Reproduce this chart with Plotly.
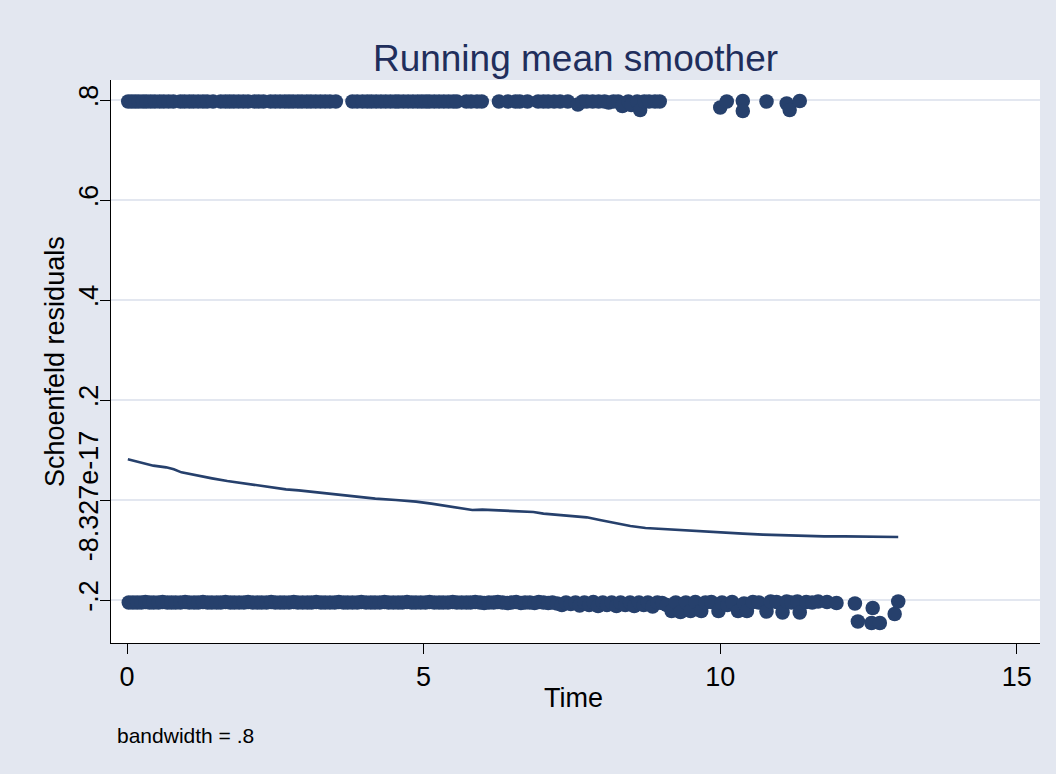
import plotly.graph_objects as go

# Schoenfeld residuals: upper band (failures) and lower band
top_time = [0.02, 0.08, 0.14, 0.2, 0.27, 0.33, 0.4, 0.47, 0.55, 0.62, 0.7, 0.78, 0.9, 0.97,
            1.05, 1.12, 1.2, 1.28, 1.35, 1.45, 1.58, 1.66, 1.73, 1.8, 1.88, 1.96, 2.04, 2.15,
            2.22, 2.3, 2.42, 2.5, 2.58, 2.66, 2.73, 2.8, 2.88, 2.95, 3.03, 3.1, 3.18, 3.26,
            3.34, 3.42, 3.52, 3.8, 3.88, 3.97, 4.05, 4.12, 4.2, 4.28, 4.36, 4.44, 4.52, 4.58,
            4.66, 4.74, 4.82, 4.9, 4.97, 5.04, 5.1, 5.18, 5.26, 5.34, 5.42, 5.5, 5.56, 5.72,
            5.8, 5.9, 5.98, 6.27, 6.42, 6.55, 6.62, 6.75, 6.93, 7.02, 7.1, 7.2, 7.3, 7.43,
            7.6, 7.68, 7.75, 7.85, 7.95, 8.05, 8.12, 8.2, 8.28, 8.35, 8.45, 8.5, 8.6, 8.65,
            8.72, 8.8, 8.9, 8.98, 10.0, 10.11, 10.38, 10.38, 10.78, 11.12, 11.17, 11.34]
top_resid = [0.797, 0.797, 0.797, 0.797, 0.797, 0.797, 0.797, 0.797, 0.797, 0.797, 0.797, 0.797, 0.797, 0.797,
             0.797, 0.797, 0.797, 0.797, 0.797, 0.797, 0.797, 0.797, 0.797, 0.797, 0.797, 0.797, 0.797, 0.797,
             0.797, 0.797, 0.797, 0.797, 0.797, 0.797, 0.797, 0.797, 0.797, 0.797, 0.797, 0.797, 0.797, 0.797,
             0.797, 0.797, 0.797, 0.797, 0.797, 0.797, 0.797, 0.797, 0.797, 0.797, 0.797, 0.797, 0.797, 0.797,
             0.797, 0.797, 0.797, 0.797, 0.797, 0.797, 0.797, 0.797, 0.797, 0.797, 0.797, 0.797, 0.797, 0.797,
             0.797, 0.797, 0.797, 0.797, 0.797, 0.797, 0.797, 0.797, 0.797, 0.797, 0.797, 0.797, 0.797, 0.797,
             0.791, 0.797, 0.797, 0.797, 0.797, 0.797, 0.795, 0.797, 0.797, 0.788, 0.797, 0.79, 0.797, 0.78,
             0.797, 0.797, 0.797, 0.797, 0.785, 0.797, 0.798, 0.778, 0.797, 0.793, 0.78, 0.798]

bot_time = [0.03, 0.1, 0.17, 0.24, 0.31, 0.38, 0.45, 0.53, 0.6, 0.68, 0.75, 0.82, 0.9, 0.98,
            1.05, 1.13, 1.2, 1.28, 1.36, 1.43, 1.51, 1.58, 1.66, 1.74, 1.81, 1.89, 1.97, 2.04,
            2.12, 2.2, 2.27, 2.35, 2.43, 2.5, 2.58, 2.65, 2.73, 2.81, 2.88, 2.96, 3.04, 3.11,
            3.19, 3.27, 3.34, 3.42, 3.5, 3.57, 3.65, 3.72, 3.8, 3.88, 3.95, 4.03, 4.11, 4.18,
            4.26, 4.34, 4.41, 4.49, 4.57, 4.64, 4.72, 4.8, 4.87, 4.95, 5.03, 5.1, 5.18, 5.26,
            5.33, 5.41, 5.49, 5.56, 5.64, 5.72, 5.79, 5.87, 5.95, 6.02, 6.1, 6.18, 6.25, 6.33,
            6.41, 6.48, 6.56, 6.64, 6.71, 6.79, 6.87, 6.94, 7.02, 7.1, 7.17, 7.25, 7.33, 7.4,
            7.48, 7.56, 7.63, 7.71, 7.79, 7.86, 7.94, 8.02, 8.09, 8.17, 8.25, 8.32, 8.4, 8.48,
            8.55, 8.63, 8.71, 8.78, 8.86, 8.94, 9.02, 9.1, 9.18, 9.25, 9.33, 9.42, 9.5, 9.58,
            9.68, 9.75, 9.85, 9.97, 10.03, 10.12, 10.2, 10.3, 10.4, 10.45, 10.55, 10.65, 10.78,
            10.85, 10.95, 11.05, 11.12, 11.2, 11.3, 11.34, 11.45, 11.55, 11.65, 11.8, 11.96,
            12.27, 12.32, 12.55, 12.57, 12.69, 12.94, 13.0]
bot_resid = [-0.205, -0.205, -0.205, -0.205, -0.204, -0.205, -0.205, -0.205, -0.204, -0.205, -0.205, -0.205, -0.205, -0.204,
             -0.205, -0.205, -0.205, -0.204, -0.205, -0.205, -0.205, -0.205, -0.204, -0.205, -0.205, -0.205, -0.205, -0.204,
             -0.205, -0.205, -0.205, -0.205, -0.204, -0.205, -0.205, -0.205, -0.205, -0.204, -0.205, -0.205, -0.205, -0.205,
             -0.204, -0.205, -0.205, -0.205, -0.205, -0.204, -0.205, -0.205, -0.205, -0.205, -0.204, -0.205, -0.205, -0.205,
             -0.205, -0.204, -0.205, -0.205, -0.205, -0.205, -0.204, -0.205, -0.205, -0.205, -0.205, -0.204, -0.205, -0.205,
             -0.205, -0.205, -0.204, -0.205, -0.205, -0.205, -0.205, -0.204, -0.205, -0.206, -0.205, -0.205, -0.204, -0.205,
             -0.206, -0.205, -0.204, -0.206, -0.205, -0.205, -0.206, -0.204, -0.205, -0.206, -0.205, -0.207, -0.21, -0.205,
             -0.208, -0.205, -0.211, -0.205, -0.21, -0.204, -0.212, -0.205, -0.21, -0.205, -0.212, -0.205, -0.21, -0.205,
             -0.212, -0.205, -0.21, -0.205, -0.213, -0.205, -0.206, -0.21, -0.222, -0.205, -0.224, -0.205, -0.222, -0.204,
             -0.222, -0.205, -0.204, -0.222, -0.205, -0.21, -0.204, -0.222, -0.207, -0.222, -0.204, -0.205, -0.223,
             -0.203, -0.204, -0.225, -0.203, -0.205, -0.203, -0.225, -0.204, -0.205, -0.203, -0.204, -0.206,
             -0.207, -0.243, -0.246, -0.216, -0.246, -0.228, -0.203]

# Running mean of the residuals over time
mean_time = [0.014, 0.23, 0.444, 0.66, 0.789, 0.917, 1.175, 1.433, 1.69, 1.95, 2.21, 2.466,
             2.68, 2.895, 3.153, 3.41, 3.67, 3.927, 4.185, 4.53, 4.873, 5.13, 5.39, 5.65,
             5.82, 5.99, 6.25, 6.51, 6.85, 7.02, 7.28, 7.54, 7.75, 7.97, 8.227, 8.485, 8.74,
             9.0, 9.344, 9.69, 10.03, 10.38, 10.72, 11.065, 11.41, 11.75, 12.1, 12.44, 12.78, 13.0]
mean_resid = [0.0813, 0.0747, 0.0687, 0.0653, 0.0613, 0.0553, 0.0487, 0.0433, 0.038, 0.0333,
              0.0287, 0.024, 0.0213, 0.0193, 0.016, 0.0133, 0.0093, 0.0053, 0.0027, 0.0,
              -0.0033, -0.0073, -0.012, -0.018, -0.02, -0.0193, -0.0207, -0.0233, -0.024,
              -0.0273, -0.03, -0.032, -0.0347, -0.04, -0.0467, -0.052, -0.056, -0.058, -0.06,
              -0.0627, -0.0647, -0.0673, -0.0693, -0.0707, -0.0713, -0.0727, -0.0727, -0.0733,
              -0.074, -0.074]

x_ticks = [0, 5, 10, 15]
y_ticks = [-0.2, -8.327e-17, 0.2, 0.4, 0.6, 0.8]
y_tick_text = ["-.2", "-8.327e-17", ".2", ".4", ".6", ".8"]

NAVY = "#26406C"
BG = "#E3E7F0"
FONT = "Liberation Sans, Arial, sans-serif"

# plot-area geometry in pixels, used to place the free-standing labels
L, R, T, B = 111, 16, 80, 131
W, H = 1056, 774
PW, PH = W - L - R, H - T - B


def px_to_paper(px, py):
    return (px - L) / PW, (H - B - py) / PH


fig = go.Figure()
fig.add_trace(go.Scatter(x=top_time + bot_time, y=top_resid + bot_resid, mode="markers",
                         marker=dict(color=NAVY, size=14.5, line=dict(width=0)),
                         showlegend=False))
fig.add_trace(go.Scatter(x=mean_time, y=mean_resid, mode="lines",
                         line=dict(color=NAVY, width=2.6), showlegend=False))

xt_x, xt_y = px_to_paper(573, 698)
yt_x, yt_y = px_to_paper(55, 362)
nb_x, nb_y = px_to_paper(115, 735)

fig.update_layout(
    width=W, height=H,
    paper_bgcolor=BG, plot_bgcolor="white",
    margin=dict(l=L, r=R, t=T, b=B),
    font=dict(family=FONT, color="black"),
    title=dict(text="Running mean smoother", x=0.5, xref="paper", y=1 - 58 / H,
               yanchor="middle", xanchor="center",
               font=dict(size=37, color="#1F2E5C", family=FONT)),
    xaxis=dict(range=[-0.27, 15.39], tickvals=x_ticks, ticktext=[str(v) for v in x_ticks],
               showgrid=False, zeroline=False, showline=True, linecolor="black", linewidth=1,
               ticks="outside", ticklen=10, tickcolor="black", tickfont=dict(size=27)),
    yaxis=dict(range=[-0.286, 0.84], tickvals=y_ticks, ticktext=y_tick_text, tickangle=-90,
               showgrid=True, gridcolor=BG, gridwidth=2, zeroline=False,
               showline=True, linecolor="black", linewidth=1,
               ticks="outside", ticklen=10, tickcolor="black", tickfont=dict(size=27),
               ticklabelstandoff=-9),
    annotations=[
        dict(text="Time", xref="paper", yref="paper", x=xt_x, y=xt_y,
             xanchor="center", yanchor="middle", showarrow=False,
             font=dict(size=27, color="black", family=FONT)),
        dict(text="Schoenfeld residuals", xref="paper", yref="paper", x=yt_x, y=yt_y,
             xanchor="center", yanchor="middle", textangle=-90, showarrow=False,
             font=dict(size=27, color="black", family=FONT)),
        dict(text="bandwidth = .8", xref="paper", yref="paper", x=nb_x, y=nb_y,
             xanchor="left", yanchor="middle", showarrow=False,
             font=dict(size=21, color="black", family=FONT)),
    ],
)

fig.write_html("out.html")
